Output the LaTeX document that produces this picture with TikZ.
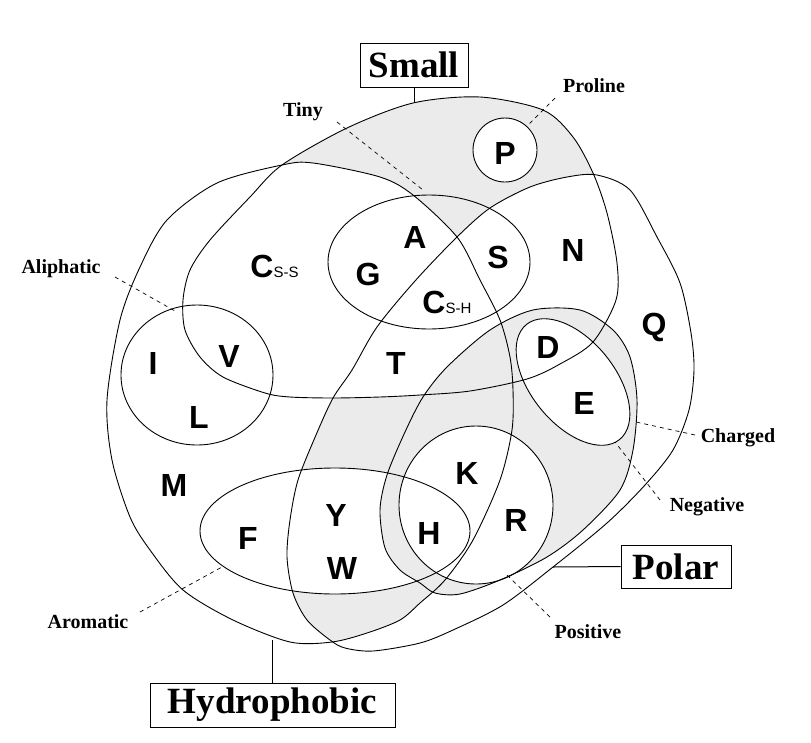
\documentclass[tikz,border=0pt]{standalone}
\usepackage{fontspec}
\setmainfont{Liberation Serif}
\setsansfont{Liberation Sans}
\definecolor{shadegray}{RGB}{235,235,235}
\begin{document}
\begin{tikzpicture}[x=1pt,y=-1pt, line width=0.9pt,
  aa/.style={font=\fontsize{32}{32}\selectfont\sffamily\bfseries, inner sep=0pt},
  lab/.style={font=\fontsize{20}{20}\selectfont\bfseries, inner sep=0pt, anchor=base},
  bigbox/.style={draw, line width=1pt, inner sep=0pt, font=\fontsize{37}{40}\selectfont\bfseries},
  ptr/.style={dash pattern=on 4pt off 4pt, line width=0.7pt},
  conn/.style={line width=1pt}]
\useasboundingbox (0,0) rectangle (811,742);
\def\hydpath{plot[smooth cycle] coordinates {(107,400) (120,320) (140,267) (167,220) (217,183) (282,165) (313,163) (380,177) (413,195) (457,237) (480,280) (500,320) (510,357) (513,390) (512,430) (500,480) (473,540) (445,580) (420,603) (400,620) (367,633) (332,642) (290,642) (233,620) (183,590) (150,550) (130,517) (112,460)}}
\def\polpath{plot[smooth cycle] coordinates {(287,557) (290,520) (298,480) (316,435) (333,398) (352,370) (377,327) (415,281) (457,237) (490,208) (530,187) (567,177) (597,175) (630,190) (657,237) (680,283) (691,333) (694,370) (689,410) (673,450) (645,485) (607,523) (553,567) (503,605) (453,630) (420,643) (373,651) (345,648) (330,640) (307,620) (293,593)}}
\def\smallpath{plot[smooth cycle] coordinates {(282,165) (347,128) (413,103) (480,97) (543,110) (573,137) (593,173) (607,213) (617,263) (616,300) (593,342) (560,364) (527,379) (470,391) (420,395) (380,397) (333,398) (290,397) (265,393) (223,377) (200,357) (185,330) (183,300) (190,270) (210,240) (250,197)}}
\def\chgpath{plot[smooth cycle] coordinates {(420,583) (400,570) (385,548) (380,510) (387,475) (405,432) (423,397) (447,367) (490,330) (533,310) (580,310) (613,330) (630,357) (637,400) (633,450) (620,490) (583,530) (547,557) (500,580) (460,594) (435,593)}}
\def\tinypath{(429,262) ellipse [x radius=101pt, y radius=67pt]}
\def\propath{(505,150) circle [radius=32pt]}
\def\alipath{(197,375) ellipse [x radius=76pt, y radius=70pt]}
\def\arompath{(335,531) ellipse [x radius=135pt, y radius=63pt]}
\def\pospath{(476,505) ellipse [x radius=77pt, y radius=79pt]}
\def\negpath{(573,382) ellipse [x radius=74pt, y radius=42pt, rotate=-51]}
% shading: Small minus Hydrophobic, Polar, Proline
\fill[shadegray] \smallpath;
\fill[white] \hydpath;
\fill[white] \polpath;
\fill[white] \propath;
% shading: Hydrophobic and Polar, minus Small, Aromatic, Positive
\begin{scope}[even odd rule]
  \clip \hydpath;
  \clip \polpath;
  \clip (0,0) rectangle (811,742) \smallpath;
  \fill[shadegray] (0,0) rectangle (811,742);
  \fill[white] \arompath;
  \fill[white] \pospath;
\end{scope}
% shading: Charged minus Positive, Negative
\fill[shadegray] \chgpath;
\fill[white] \pospath;
\fill[white] \negpath;
% outlines
\draw \hydpath;
\draw \polpath;
\draw \smallpath;
\draw \chgpath;
\draw \tinypath;
\draw \propath;
\draw \alipath;
\draw \arompath;
\draw \pospath;
\draw \negpath;
% amino acids
\node[aa] (P) at (505,153) {P};
\node[aa] (A) at (415,237) {A};
\node[aa] (G) at (368,274) {G};
\node[aa] (S) at (498,257) {S};
\node[aa] (N) at (573,250) {N};
\node[aa] (Q) at (654,327) {Q};
\node[aa] (D) at (548,347) {D};
\node[aa] (E) at (584,403) {E};
\node[aa] (T) at (396,363) {T};
\node[aa] (I) at (153,363) {I};
\node[aa] (V) at (229,356) {V};
\node[aa] (L) at (199,417) {L};
\node[aa] (M) at (174,485) {M};
\node[aa] (F) at (248,538) {F};
\node[aa] (Y) at (336,515) {Y};
\node[aa] (W) at (342,568) {W};
\node[aa] (H) at (429,533) {H};
\node[aa] (K) at (467,473) {K};
\node[aa] (R) at (516,520) {R};
\node[aa, anchor=base west] (Css) at (250,277) {C{\fontsize{15}{15}\selectfont\mdseries S-S}};
\node[aa, anchor=base west] (Csh) at (422,313) {C{\fontsize{15}{15}\selectfont\mdseries S-H}};
% small labels
\node[lab] (tinyl) at (303,116) {Tiny};
\node[lab] (prol) at (594,92) {Proline};
\node[lab] (alil) at (61,273) {Aliphatic};
\node[lab] (arol) at (88,628) {Aromatic};
\node[lab] (chgl) at (738,442) {Charged};
\node[lab] (negl) at (707,511) {Negative};
\node[lab] (posl) at (588,638) {Positive};
% pointer ends
\coordinate (tinya) at (337,122);  \coordinate (tinyb) at (423,190);
\coordinate (proa) at (555,98);    \coordinate (prob) at (528,125);
\coordinate (alia) at (115,277);   \coordinate (alib) at (175,311);
\coordinate (aroa) at (140,612);   \coordinate (arob) at (222,567);
\coordinate (chga) at (695,435);   \coordinate (chgb) at (636,422);
\coordinate (nega) at (660,500);   \coordinate (negb) at (615,442);
\coordinate (posa) at (550,617);   \coordinate (posb) at (507,575);
\draw[ptr] (tinya) -- (tinyb);
\draw[ptr] (proa) -- (prob);
\draw[ptr] (alia) -- (alib);
\draw[ptr] (aroa) -- (arob);
\draw[ptr] (chga) -- (chgb);
\draw[ptr] (nega) -- (negb);
\draw[ptr] (posa) -- (posb);
% big labels
\node[bigbox, fill=white, minimum width=108pt, minimum height=44pt] (smallb) at (414,65) {Small};
\node[bigbox, fill=white, minimum width=245pt, minimum height=44pt] (hydb) at (272.5,705) {Hydrophobic};
\node[bigbox, fill=white, minimum width=110pt, minimum height=43pt] (polb) at (676,566.5) {Polar};
\coordinate (smallc) at (414,103);
\coordinate (hydc) at (272.5,640);
\coordinate (polc) at (553,567);
\draw[conn] (smallb.south) -- (smallc);
\draw[conn] (hydb.north) -- (hydc);
\draw[conn] (polb.west) -- (polc);
\end{tikzpicture}
\end{document}
